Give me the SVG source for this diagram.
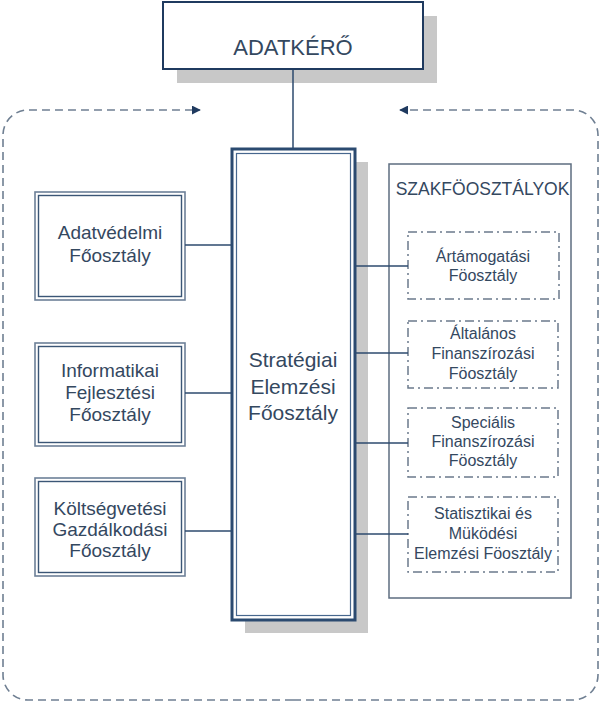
<svg xmlns="http://www.w3.org/2000/svg" width="600" height="702" viewBox="0 0 600 702">
<defs>
<style>
text{font-family:"Liberation Sans",Arial,sans-serif;fill:#34485f;text-anchor:middle}
.big{font-size:22px}
.mid{font-size:21px}
.left{font-size:19px}
.rt{font-size:16px}
.shadow{fill:#c8c8c8}
.dbl-o{fill:#fff;stroke:#6d8098;stroke-width:1.6}
.dbl-i{fill:none;stroke:#3b5676;stroke-width:1.4}
.dd{fill:#fff;stroke:#6b7a8c;stroke-width:1.5;stroke-dasharray:9 4 2 4}
.conn{fill:none;stroke:#2d4a6e;stroke-width:1.5}
.outer{fill:none;stroke:#6f7f92;stroke-width:1.6;stroke-dasharray:8 5}
</style>
<marker id="ah" viewBox="0 0 10 10" refX="9" refY="5" markerWidth="9" markerHeight="9" markerUnits="userSpaceOnUse" orient="auto">
<path d="M0,0 L10,5 L0,10 Z" fill="#1f3a5f"/>
</marker>
</defs>
<rect width="600" height="702" fill="#fff"/>

<g id="feedback-loop">
<path class="outer" d="M293 700 H28 A25 25 0 0 1 3 675 V135 A25 25 0 0 1 28 110 H200" marker-end="url(#ah)"/>
<path class="outer" d="M293 700 H573 A25 25 0 0 0 598 675 V135 A25 25 0 0 0 573 110 H400" marker-end="url(#ah)"/>
</g>

<g id="adatkero">
<rect class="shadow" x="177" y="16" width="260" height="67"/>
<rect x="163" y="2" width="260" height="67" fill="#fff" stroke="#1f3a5f" stroke-width="2"/>
<text class="big" x="293" y="55">ADATKÉRŐ</text>
</g>

<g id="strategiai">
<rect class="shadow" x="245" y="162" width="123" height="471"/>
<rect x="232" y="149" width="123" height="471" fill="#fff" stroke="#2b4a70" stroke-width="3"/>
<rect x="236.5" y="153.5" width="114" height="462" fill="none" stroke="#47678e" stroke-width="1.2"/>
<text class="mid" x="293" y="367">Stratégiai</text>
<text class="mid" x="293" y="394">Elemzési</text>
<text class="mid" x="293" y="420">Főosztály</text>
</g>

<g id="adatvedelmi">
<rect class="dbl-o" x="35" y="192" width="150" height="108"/>
<rect class="dbl-i" x="38.5" y="195.5" width="143" height="101"/>
<text class="left" x="110" y="239">Adatvédelmi</text>
<text class="left" x="110" y="262">Főosztály</text>
</g>

<g id="informatikai">
<rect class="dbl-o" x="35" y="343" width="150" height="103"/>
<rect class="dbl-i" x="38.5" y="346.5" width="143" height="96"/>
<text class="left" x="110" y="377">Informatikai</text>
<text class="left" x="110" y="399">Fejlesztési</text>
<text class="left" x="110" y="421">Főosztály</text>
</g>

<g id="koltsegvetesi">
<rect class="dbl-o" x="35" y="478" width="150" height="98"/>
<rect class="dbl-i" x="38.5" y="481.5" width="143" height="91"/>
<text class="left" x="110" y="515">Költségvetési</text>
<text class="left" x="110" y="536">Gazdálkodási</text>
<text class="left" x="110" y="557">Főosztály</text>
</g>

<g id="szakfoosztalyok">
<rect x="389" y="164" width="182" height="434" fill="none" stroke="#5d6d80" stroke-width="1.5"/>
<text x="482.5" y="195" style="font-size:17.5px">SZAKFÖOSZTÁLYOK</text>
</g>

<g id="artamogatasi">
<rect class="dd" x="408" y="232" width="151" height="67"/>
<text class="rt" x="483" y="262">Ártámogatási</text>
<text class="rt" x="483" y="281">Föosztály</text>
</g>

<g id="altalanos">
<rect class="dd" x="408" y="321" width="150" height="67"/>
<text class="rt" x="483" y="339">Általános</text>
<text class="rt" x="483" y="359">Finanszírozási</text>
<text class="rt" x="483" y="379">Föosztály</text>
</g>

<g id="specialis">
<rect class="dd" x="408" y="408" width="150" height="69"/>
<text class="rt" x="483" y="428">Speciális</text>
<text class="rt" x="483" y="447">Finanszírozási</text>
<text class="rt" x="483" y="466">Föosztály</text>
</g>

<g id="statisztikai">
<rect class="dd" x="408" y="497" width="150" height="75"/>
<text class="rt" x="483" y="519">Statisztikai és</text>
<text class="rt" x="483" y="539">Müködési</text>
<text class="rt" x="483" y="559">Elemzési Föosztály</text>
</g>

<g id="connectors">
<path class="conn" d="M293 70 V148"/>
<path class="conn" d="M185 245 H231"/>
<path class="conn" d="M185 393 H231"/>
<path class="conn" d="M185 531 H231"/>
<path class="conn" d="M356 266 H408"/>
<path class="conn" d="M356 353 H408"/>
<path class="conn" d="M356 443 H408"/>
<path class="conn" d="M356 534 H408"/>
</g>
</svg>
